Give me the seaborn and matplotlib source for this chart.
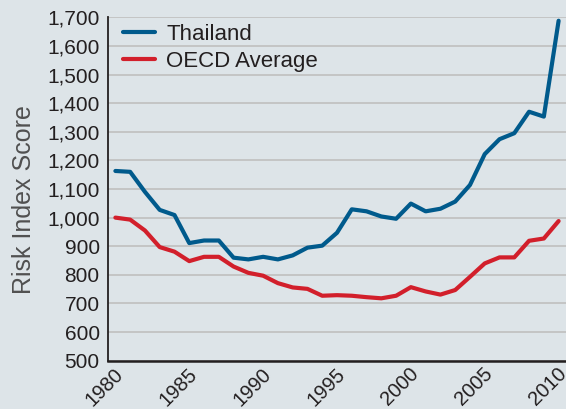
import pandas as pd
import matplotlib.pyplot as plt
import matplotlib.ticker as mticker
import matplotlib.transforms as mtransforms
import seaborn as sns

years = list(range(1980, 2011))

thailand = [1163, 1160, 1090, 1027, 1009, 911, 920, 920, 860, 854,
            863, 854, 868, 895, 902, 947, 1029, 1022, 1004, 996,
            1049, 1022, 1031, 1056, 1114, 1222, 1274, 1295, 1370, 1353,
            1688]

oecd = [1000, 993, 955, 897, 881, 848, 863, 863, 829, 807,
        797, 771, 756, 751, 727, 729, 727, 722, 718, 727,
        757, 742, 731, 747, 793, 840, 861, 861, 919, 927,
        988]

series_names = ["Thailand", "OECD Average"]
series_colors = ["#005a8c", "#d21f2b"]
y_ticks = list(range(500, 1800, 100))
x_labels = [1980, 1985, 1990, 1995, 2000, 2005, 2010]

df = pd.DataFrame({
    "year": years * 2,
    "score": thailand + oecd,
    "series": [series_names[0]] * len(years) + [series_names[1]] * len(years),
})

sns.set_style("white")
plt.rcParams["font.family"] = ["Liberation Sans", "DejaVu Sans"]

bg = "#dde4e8"
ink = "#231f20"

fig = plt.figure(figsize=(5.66, 4.09), dpi=100, facecolor=bg)
ax = fig.add_axes([108 / 566, 48.3 / 409, 1 - 108 / 566, (360.7 - 17.3) / 409])
ax.set_facecolor(bg)

sns.lineplot(data=df, x="year", y="score", hue="series", palette=series_colors,
             hue_order=series_names, linewidth=3.0, ax=ax, zorder=3)

ax.set_xlim(1979.5, 2010.5)
ax.set_ylim(500, 1700)

# horizontal grid only
ax.set_yticks(y_ticks)
ax.yaxis.set_major_formatter(mticker.FuncFormatter(lambda v, p: f"{int(v):,}"))
ax.grid(axis="y", color="#bfbfbf", linewidth=1.2, zorder=1)
ax.grid(axis="x", visible=False)
ax.tick_params(axis="y", length=0, pad=6, labelsize=15, labelcolor=ink)

# tick marks sit between years, labels every five years
half_years = [y + 0.5 for y in years]
ax.set_xticks(half_years)
ax.set_xticklabels([str(int(h - 0.5)) if int(h - 0.5) in x_labels else "" for h in half_years],
                   rotation=45, ha="right", rotation_mode="anchor")
ax.tick_params(axis="x", direction="in", length=5, width=1.3, color=ink,
               pad=4, labelsize=14.5, labelcolor=ink)
shift = mtransforms.ScaledTranslation(-9 / 100, 2 / 100, fig.dpi_scale_trans)
for lab in ax.get_xticklabels():
    lab.set_transform(lab.get_transform() + shift)

for side in ["top", "right"]:
    ax.spines[side].set_visible(False)
ax.spines["left"].set_color(ink)
ax.spines["left"].set_linewidth(1.3)
ax.spines["bottom"].set_color(ink)
ax.spines["bottom"].set_linewidth(1.8)
ax.spines["left"].set_zorder(4)
ax.spines["bottom"].set_zorder(4)

ax.set_xlabel("")
ax.set_ylabel("Risk Index Score", fontsize=18, color="#505050")
ax.yaxis.set_label_coords(-0.157, 0.468)

leg = ax.legend(loc="upper left", bbox_to_anchor=(123 / 566, 1 - 24 / 409),
                bbox_transform=fig.transFigure, frameon=False, fontsize=16,
                handlelength=1.45, handletextpad=0.5, labelspacing=0.28,
                borderpad=0, borderaxespad=0, title=None)
for text in leg.get_texts():
    text.set_color(ink)
for line in leg.get_lines():
    line.set_linewidth(3.0)

fig.savefig("out.png", dpi=100, facecolor=bg)
